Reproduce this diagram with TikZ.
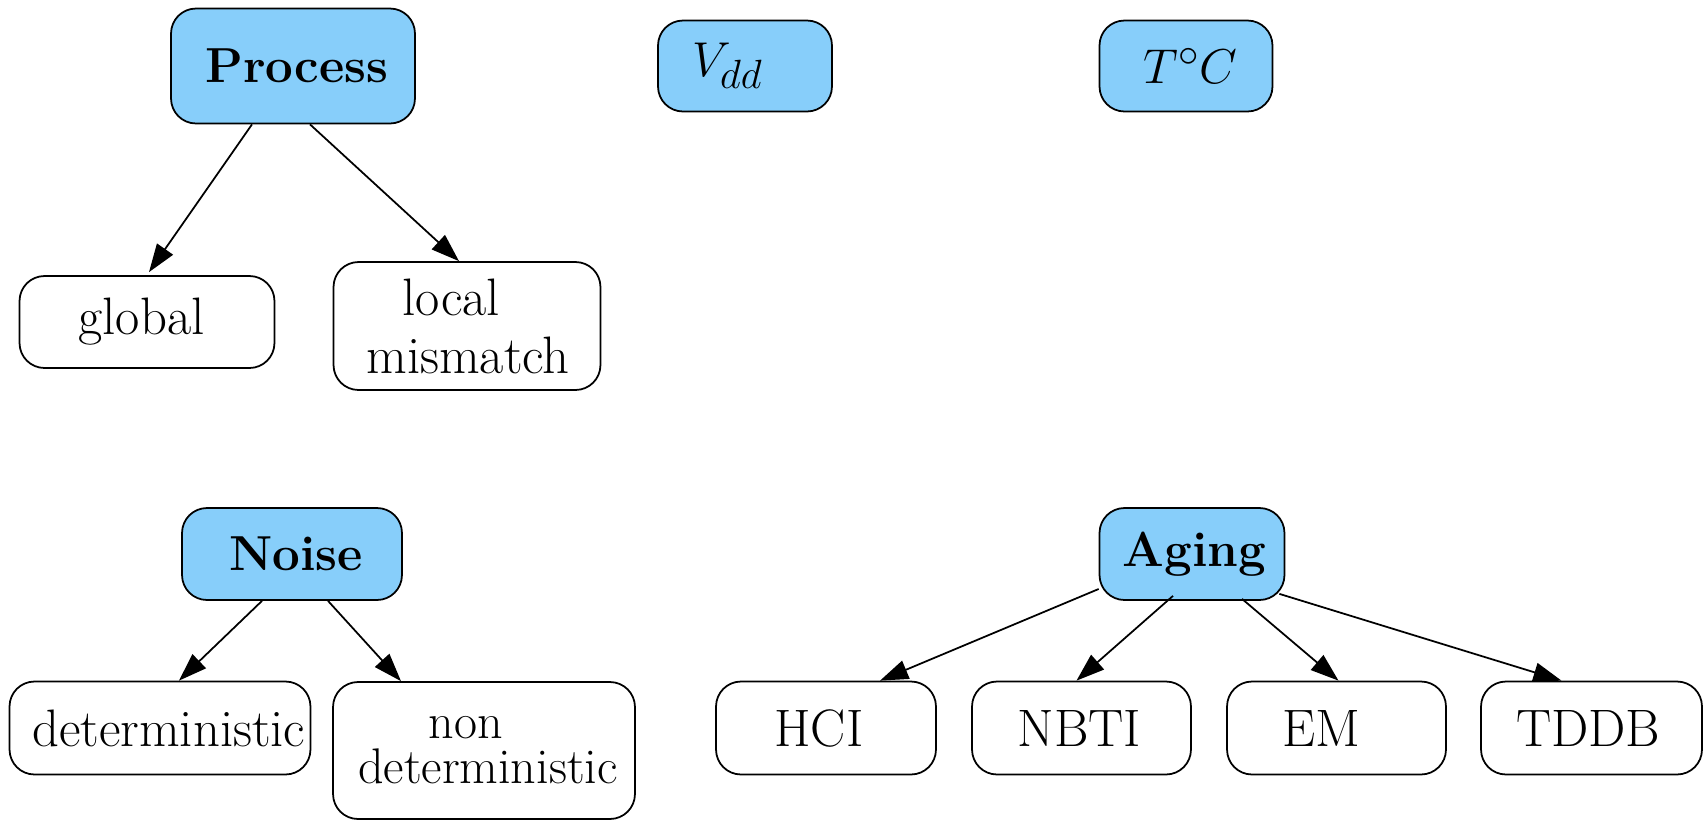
\documentclass[tikz,border=0pt]{standalone}
\usepackage{graphicx}
\usetikzlibrary{arrows.meta,calc}
\definecolor{skyfill}{HTML}{87CEFA}
\tikzset{
  box/.style={draw=black, rounded corners=0.5cm, line width=1pt, inner sep=0pt,
              align=center, font=\fontsize{30}{33}\selectfont},
  hub/.style={box, fill=skyfill},
  hubbf/.style={hub, font=\fontsize{28}{33}\selectfont\bfseries},
  leaf/.style={box, fill=white},
  arr/.style={-{Triangle[length=16pt,width=11pt]}, line width=1pt},
}
% shift a line of text sideways without changing its width
\newcommand{\sh}[2]{\hspace*{#1}#2\hspace*{-#1}}
\newcommand{\bigmath}[1]{\scalebox{1.12}{$#1$}}
\begin{document}
\begin{tikzpicture}[x=0.02cm,y=-0.02cm]
\useasboundingbox (0,0) rectangle (1708,819);

% top row: factor groups
\node[hubbf, minimum width=4.88cm, minimum height=2.30cm] (proc) at (293,66) {\sh{2.2pt}{Process}};
\node[hub, minimum width=3.48cm, minimum height=1.82cm] (vdd) at (745,66) {\sh{-10pt}{\bigmath{V_{dd}}}};
\node[hub, minimum width=3.46cm, minimum height=1.82cm] (temp) at (1186,66) {\sh{2.5pt}{\bigmath{T^{\circ}C}}};

\node[leaf, minimum width=5.10cm, minimum height=1.84cm] (glob) at (147,322) {\sh{-3.1pt}{global}};
\node[leaf, minimum width=5.34cm, minimum height=2.56cm] (loc) at (467,326) {\sh{-9pt}{local}\\\sh{0.6pt}{mismatch}};

% bottom row: noise and aging
\node[hubbf, minimum width=4.40cm, minimum height=1.84cm] (noise) at (292,554) {\sh{2.2pt}{Noise}};
\node[hubbf, minimum width=3.70cm, minimum height=1.84cm] (aging) at (1192,554) {\sh{1.5pt}{Aging}};

\node[leaf, minimum width=6.02cm, minimum height=1.86cm] (det) at (160,728) {\sh{5pt}{deterministic}};
\node[leaf, minimum width=6.04cm, minimum height=2.74cm, font=\fontsize{28.5}{25.5}\selectfont]
  (ndet) at (484,750.5) {\sh{-10.5pt}{non}\\\sh{2.2pt}{deterministic}};

\node[leaf, minimum width=4.40cm, minimum height=1.86cm] (hci) at (826,728) {\sh{-4pt}{HCI}};
\node[leaf, minimum width=4.38cm, minimum height=1.86cm] (nbti) at (1081.5,728) {\sh{-1.2pt}{NBTI}};
\node[leaf, minimum width=4.38cm, minimum height=1.86cm] (em) at (1336.5,728) {\sh{-8.7pt}{EM}};
\node[leaf, minimum width=4.42cm, minimum height=1.86cm] (tddb) at (1591.5,728) {\sh{-1.9pt}{TDDB}};

% connectors
\draw[arr] ($(proc.south)+(-41,0)$) -- ($(glob.north)+(2,-3)$);
\draw[arr] ($(proc.south)+(17,0)$) -- ($(loc.north)+(-8,0)$);

\draw[arr] ($(noise.south)+(-30,0)$) -- ($(det.north)+(19,0)$);
\draw[arr] ($(noise.south)+(36,0)$) -- ($(ndet.north)+(-83,0)$);

\draw[arr] ($(aging.west)+(0,35)$) -- ($(hci.north)+(54,0)$);
\draw[arr] ($(aging.south)+(-19,-5)$) -- ($(nbti.north)+(-5,0)$);
\draw[arr] ($(aging.south)+(50,-2)$) -- ($(em.north)+(2,0)$);
\draw[arr] ($(aging.south east)+(-6,-7)$) -- ($(tddb.north)+(-30,0)$);
\end{tikzpicture}
\end{document}
